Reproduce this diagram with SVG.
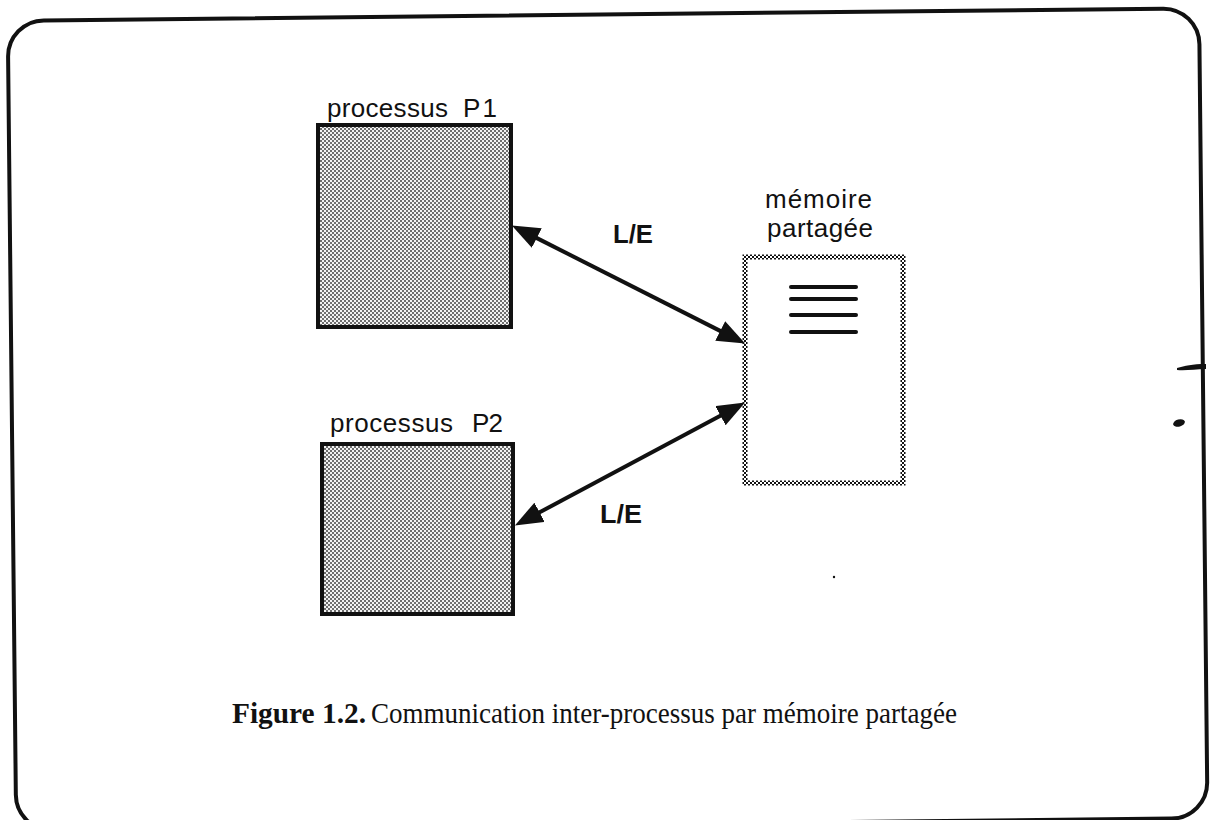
<svg xmlns="http://www.w3.org/2000/svg" width="1210" height="820" viewBox="0 0 1210 820">
  <style>
    .lbl { font-family: "Liberation Sans", Arial, Helvetica, sans-serif; font-size: 26px; fill: #111; }
    .le { font-family: "Liberation Sans", Arial, Helvetica, sans-serif; font-size: 25px; font-weight: bold; fill: #111; }
    .cap { font-family: "Liberation Serif", "Times New Roman", serif; font-size: 29px; fill: #111; }
    .proc { fill: url(#dots); stroke: #111; stroke-width: 4; }
    .conn { stroke: #111; stroke-width: 4; fill: none; marker-start: url(#head); marker-end: url(#head); }
    .bar { stroke: #111; stroke-width: 4; stroke-linecap: round; }
  </style>
  <defs>
    <pattern id="dots" width="4" height="4" patternUnits="userSpaceOnUse">
      <rect width="4" height="4" fill="#f2f2f2"/>
      <rect x="0" y="0" width="2" height="2" fill="#6e6e6e"/>
      <rect x="2" y="2" width="2" height="2" fill="#6e6e6e"/>
    </pattern>
    <pattern id="chk" width="4" height="4" patternUnits="userSpaceOnUse">
      <rect width="4" height="4" fill="#ffffff"/>
      <rect x="0" y="0" width="2" height="2" fill="#111"/>
      <rect x="2" y="2" width="2" height="2" fill="#111"/>
    </pattern>
    <marker id="head" markerUnits="userSpaceOnUse" markerWidth="32" markerHeight="24" refX="1" refY="11" orient="auto-start-reverse">
      <path d="M0,0 L28,11 L0,22 Z" fill="#111"/>
    </marker>
  </defs>

  <rect width="1210" height="820" fill="#ffffff"/>

  <!-- frame -->
  <g id="frame">
    <rect x="11.9" y="14.5" width="1191.4" height="810" rx="36" ry="36" fill="none" stroke="#111" stroke-width="4" transform="rotate(-0.6 607.6 416.5)"/>
  </g>

  <!-- process P1 -->
  <g id="p1">
    <rect class="proc" x="318" y="125" width="193" height="202"/>
    <text class="lbl" x="327" y="117" textLength="121" lengthAdjust="spacing">processus</text>
    <text class="lbl" x="463" y="117" textLength="34" lengthAdjust="spacing">P1</text>
  </g>

  <!-- process P2 -->
  <g id="p2">
    <rect class="proc" x="322" y="444" width="191" height="170"/>
    <text class="lbl" x="330" y="432" textLength="123" lengthAdjust="spacing">processus</text>
    <text class="lbl" x="472" y="432" textLength="31" lengthAdjust="spacing">P2</text>
  </g>

  <!-- shared memory -->
  <g id="memoire">
    <rect x="745" y="257" width="158" height="226" fill="#ffffff" stroke="url(#chk)" stroke-width="5"/>
    <line class="bar" x1="791" y1="287" x2="856" y2="287"/>
    <line class="bar" x1="791" y1="299" x2="856" y2="299"/>
    <line class="bar" x1="791" y1="315" x2="856" y2="315"/>
    <line class="bar" x1="791" y1="332" x2="856" y2="332"/>
    <text class="lbl" x="765" y="208" textLength="107" lengthAdjust="spacing">mémoire</text>
    <text class="lbl" x="767" y="237" textLength="106" lengthAdjust="spacing">partagée</text>
  </g>

  <!-- connectors -->
  <g id="connectors">
    <line class="conn" x1="535.9" y1="237.6" x2="721.1" y2="331.4"/>
    <text class="le" x="613" y="243" textLength="40" lengthAdjust="spacingAndGlyphs">L/E</text>
    <line class="conn" x1="538.7" y1="512.8" x2="721.3" y2="415.2"/>
    <text class="le" x="600" y="523" textLength="42" lengthAdjust="spacingAndGlyphs">L/E</text>
  </g>

  <!-- caption -->
  <g id="caption">
    <text class="cap" x="232" y="723" font-weight="bold" textLength="134" lengthAdjust="spacingAndGlyphs">Figure 1.2.</text>
    <text class="cap" x="371" y="723" textLength="586" lengthAdjust="spacingAndGlyphs">Communication inter-processus par mémoire partagée</text>
  </g>

  <!-- scan marks at right edge -->
  <g id="marks" fill="#111">
    <path d="M1177,368 C1185,366 1192,364 1206,364 L1206,369 C1195,369 1186,371 1177,370 Z"/>
    <ellipse cx="1179" cy="423" rx="6" ry="3.5" transform="rotate(-15 1179 423)"/>
    <circle cx="834" cy="577" r="1.2"/>
  </g>
</svg>
